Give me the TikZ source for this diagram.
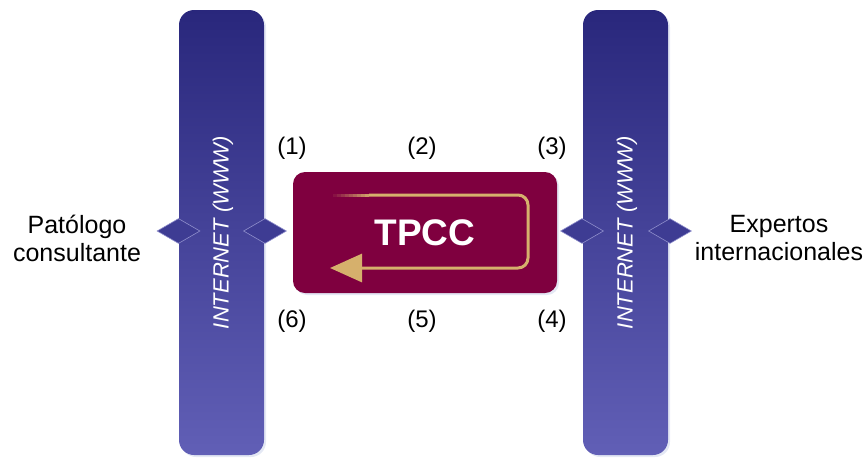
\documentclass[tikz,border=0pt]{standalone}
\usepackage{fontspec}
\setmainfont{Liberation Sans}
\usetikzlibrary{shapes.geometric,arrows.meta,shadows}

\definecolor{bartop}{HTML}{29277C}
\definecolor{barbot}{HTML}{615FB6}
\definecolor{tpccred}{HTML}{7F003F}
\definecolor{looptan}{HTML}{D6B06C}
\definecolor{jointblue}{HTML}{3E3C93}
\definecolor{halo}{HTML}{C9D2EA}

\tikzset{
  netbar/.style={rectangle, rounded corners=15pt, minimum width=85pt, minimum height=445pt,
    inner sep=0pt, top color=bartop, bottom color=barbot,
    drop shadow={shadow xshift=2pt, shadow yshift=-2pt, fill=halo}},
  netjoint/.style={diamond, minimum width=43pt, minimum height=25pt, inner sep=0pt,
    fill=jointblue, draw=barbot!70!white, line width=0.6pt},
  nettext/.style={rotate=90, text=white, font=\itshape\fontsize{22}{22}\selectfont},
  steplabel/.style={font=\fontsize{24}{26}\selectfont},
  sidelabel/.style={align=center, font=\fontsize{25}{28}\selectfont}
}

\begin{document}
\begin{tikzpicture}[x=1pt,y=-1pt]
\useasboundingbox (0,0) rectangle (867,461);

% the two internet bars
\node[netbar] (leftbar) at (221.5,232.5) {};
\node[netbar] (rightbar) at (625.5,232.5) {};
\node[nettext] (leftnet) at (223,232.5) {INTERNET (WWW)};
\node[nettext] (rightnet) at (627,232.5) {INTERNET (WWW)};

% joints on the bar edges
\node[netjoint] (jointa) at (178.5,231) {};
\node[netjoint] (jointb) at (265,231) {};
\node[netjoint] (jointc) at (582,231) {};
\node[netjoint] (jointd) at (670,231) {};

% central box
\node[rectangle, rounded corners=12pt, minimum width=264pt, minimum height=121pt,
  fill=tpccred, drop shadow={shadow xshift=2pt, shadow yshift=-2pt, fill=halo},
  text=white, font=\bfseries\fontsize{37}{37}\selectfont] (tpcc) at (425,232.5) {TPCC};

% loop arrow inside the box, fading in at its start
\foreach \k in {1,...,9}
  \draw[looptan!\k0!tpccred, line width=3pt] (329+4*\k,195) -- (333+4*\k,195);
\draw[looptan, line width=3pt, rounded corners=10pt, -{Triangle[length=32pt,width=28pt]}]
  (369,195) -- (528,195) -- (528,268) -- (330,268);

% step numbers
\node[steplabel] (s1) at (292,148) {(1)};
\node[steplabel] (s2) at (422,148) {(2)};
\node[steplabel] (s3) at (552,148) {(3)};
\node[steplabel] (s6) at (292,321) {(6)};
\node[steplabel] (s5) at (422,321) {(5)};
\node[steplabel] (s4) at (552,321) {(4)};

% the two ends
\node[sidelabel] (pathologist) at (77,238) {Patólogo\\consultante};
\node[sidelabel] (experts) at (779,238) {Expertos\\internacionales};

\end{tikzpicture}
\end{document}
